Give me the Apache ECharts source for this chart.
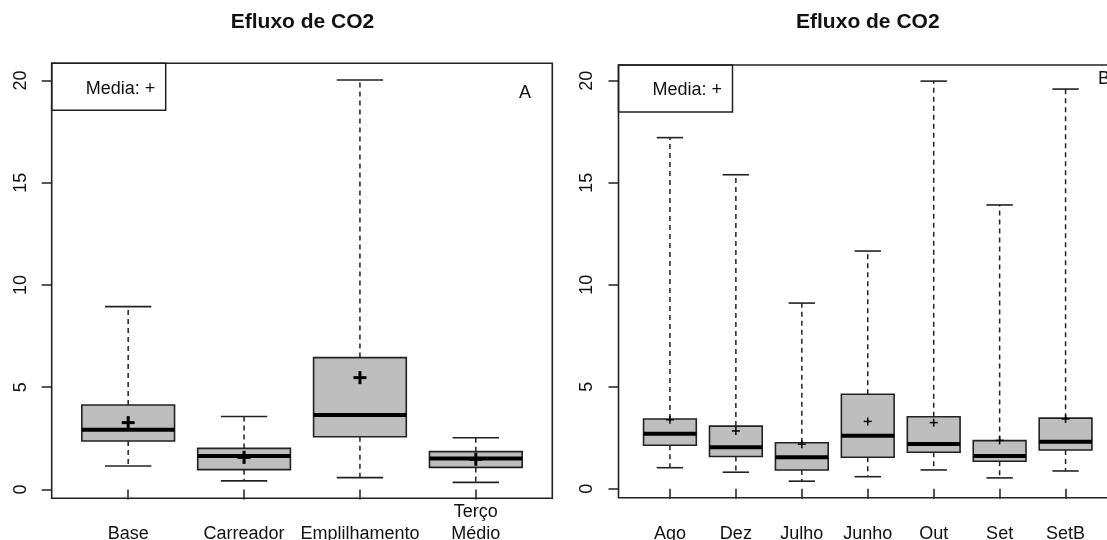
<!DOCTYPE html>
<html>
<head>
<meta charset="utf-8">
<script src="https://cdn.jsdelivr.net/npm/echarts@6/dist/echarts.min.js"></script>
<style>
html,body{margin:0;padding:0;background:#fff;}
#c{width:1107px;height:540px;}
</style>
</head>
<body>
<div id="c"></div>
<script>
// ---- Panel A data ----
const catsA  = ['Base', 'Carreador', 'Emplilhamento', 'Terço\nMédio'];
const lowA   = [1.15, 0.42, 0.58, 0.35];
const q1A    = [2.37, 0.97, 2.58, 1.08];
const medA   = [2.92, 1.64, 3.64, 1.52];
const q3A    = [4.13, 2.01, 6.45, 1.85];
const highA  = [8.94, 3.57, 20.02, 2.53];
const meanA  = [3.27, 1.57, 5.47, 1.48];

// ---- Panel B data ----
const catsB  = ['Ago', 'Dez', 'Julho', 'Junho', 'Out', 'Set', 'SetB'];
const lowB   = [1.03, 0.81, 0.37, 0.59, 0.92, 0.53, 0.87];
const q1B    = [2.13, 1.58, 0.92, 1.54, 1.79, 1.35, 1.90];
const medB   = [2.70, 2.03, 1.54, 2.60, 2.19, 1.60, 2.30];
const q3B    = [3.42, 3.07, 2.25, 4.63, 3.53, 2.36, 3.46];
const highB  = [17.21, 15.39, 9.10, 11.65, 19.98, 13.91, 19.59];
const meanB  = [3.38, 2.83, 2.18, 3.30, 3.24, 2.37, 3.42];

const yTicks = [0, 5, 10, 15, 20];
const FONT = 'Liberation Sans, Arial, sans-serif';
const DARK = '#222';

function build(cats, low, q1, med, q3, high, mean) {
  return cats.map((c, i) => [i + 1, low[i], q1[i], med[i], q3[i], high[i], mean[i]]);
}

function makeRender(plusHalf, plusWidth) {
  return function (params, api) {
    const x = api.value(0);
    const lo = api.value(1), a = api.value(2), m = api.value(3), b = api.value(4), hi = api.value(5), mu = api.value(6);
    const pL = api.coord([x - 0.4, b]);
    const pR = api.coord([x + 0.4, a]);
    const pc = (v) => api.coord([x, v]);
    const sL = api.coord([x - 0.2, lo])[0];
    const sR = api.coord([x + 0.2, lo])[0];
    const cx = pc(m)[0];
    const yLo = pc(lo)[1], yA = pc(a)[1], yM = pc(m)[1], yB = pc(b)[1], yHi = pc(hi)[1], yMu = pc(mu)[1];
    const dash = { stroke: DARK, lineWidth: 1.5, lineDash: [5, 4] };
    const solid = { stroke: DARK, lineWidth: 1.6 };
    return {
      type: 'group',
      children: [
        { type: 'line', shape: { x1: cx, y1: yB, x2: cx, y2: yHi }, style: dash },
        { type: 'line', shape: { x1: cx, y1: yA, x2: cx, y2: yLo }, style: dash },
        { type: 'line', shape: { x1: sL, y1: yHi, x2: sR, y2: yHi }, style: solid },
        { type: 'line', shape: { x1: sL, y1: yLo, x2: sR, y2: yLo }, style: solid },
        { type: 'rect', shape: { x: pL[0], y: pL[1], width: pR[0] - pL[0], height: pR[1] - pL[1] },
          style: { fill: '#bebebe', stroke: DARK, lineWidth: 1.6 } },
        { type: 'line', shape: { x1: pL[0], y1: yM, x2: pR[0], y2: yM }, style: { stroke: '#000', lineWidth: 4 } },
        { type: 'line', shape: { x1: cx - plusHalf, y1: yMu, x2: cx + plusHalf, y2: yMu }, style: { stroke: '#000', lineWidth: plusWidth } },
        { type: 'line', shape: { x1: cx, y1: yMu - plusHalf, x2: cx, y2: yMu + plusHalf }, style: { stroke: '#000', lineWidth: plusWidth } }
      ]
    };
  };
}

function xAxisFor(cats, idx) {
  const n = cats.length;
  const vals = cats.map((c, i) => i + 1);
  return {
    type: 'value', gridIndex: idx,
    min: 0.5 - 0.04 * n, max: n + 0.5 + 0.04 * n,
    axisLine: { show: false },
    splitLine: { show: false },
    axisTick: { show: true, inside: false, length: 10, customValues: vals, lineStyle: { color: DARK, width: 1.5 } },
    axisLabel: {
      customValues: vals, margin: 47, verticalAlign: 'bottom',
      fontFamily: FONT, fontSize: 18, lineHeight: 22, color: '#111',
      formatter: (v) => cats[Math.round(v) - 1]
    }
  };
}

function yAxisFor(idx, mn, mx) {
  return {
    type: 'value', gridIndex: idx, min: mn, max: mx,
    axisLine: { show: false },
    splitLine: { show: false },
    axisTick: { show: true, inside: false, length: 10, customValues: yTicks, lineStyle: { color: DARK, width: 1.5 } },
    axisLabel: {
      customValues: yTicks, rotate: 90, margin: 22,
      fontFamily: FONT, fontSize: 18, color: '#111'
    }
  };
}

const chart = echarts.init(document.getElementById('c'), null, { renderer: 'canvas' });
chart.setOption({
  backgroundColor: '#fff',
  animation: false,
  title: [
    { text: 'Efluxo de CO2', left: 302.5, top: 12, textAlign: 'center', padding: 0,
      textStyle: { fontFamily: FONT, fontSize: 21, fontWeight: 'bold', color: '#111' } },
    { text: 'Efluxo de CO2', left: 867.8, top: 12, textAlign: 'center', padding: 0,
      textStyle: { fontFamily: FONT, fontSize: 21, fontWeight: 'bold', color: '#111' } },
    { text: 'Media: +', left: 51.7, top: 63.3, padding: [16, 11, 12, 34], borderColor: DARK, borderWidth: 1.5,
      textStyle: { fontFamily: FONT, fontSize: 18, fontWeight: 'normal', color: '#111', lineHeight: 19 } },
    { text: 'Media: +', left: 618.5, top: 65, padding: [16, 11, 12, 34], borderColor: DARK, borderWidth: 1.5,
      textStyle: { fontFamily: FONT, fontSize: 18, fontWeight: 'normal', color: '#111', lineHeight: 19 } },
    { text: 'A', left: 525, top: 84, textAlign: 'center', padding: 0,
      textStyle: { fontFamily: FONT, fontSize: 18, fontWeight: 'normal', color: '#111' } },
    { text: 'B', left: 1098, top: 70, padding: 0,
      textStyle: { fontFamily: FONT, fontSize: 18, fontWeight: 'normal', color: '#111' } }
  ],
  grid: [
    { left: 51.7, top: 63.3, width: 500.6, height: 435, show: true, borderColor: DARK, borderWidth: 1.6,
      backgroundColor: 'transparent', containLabel: false, outerBoundsMode: 'none' },
    { left: 618.5, top: 65, width: 498.5, height: 432.7, show: true, borderColor: DARK, borderWidth: 1.6,
      backgroundColor: 'transparent', containLabel: false, outerBoundsMode: 'none' }
  ],
  xAxis: [xAxisFor(catsA, 0), xAxisFor(catsB, 1)],
  yAxis: [yAxisFor(0, -0.43, 20.84), yAxisFor(1, -0.44, 20.77)],
  series: [
    { type: 'custom', xAxisIndex: 0, yAxisIndex: 0, renderItem: makeRender(6.5, 3),
      encode: { x: 0, y: [1, 2, 3, 4, 5, 6] }, data: build(catsA, lowA, q1A, medA, q3A, highA, meanA) },
    { type: 'custom', xAxisIndex: 1, yAxisIndex: 1, renderItem: makeRender(4, 1.5),
      encode: { x: 0, y: [1, 2, 3, 4, 5, 6] }, data: build(catsB, lowB, q1B, medB, q3B, highB, meanB) }
  ]
});
</script>
</body>
</html>
